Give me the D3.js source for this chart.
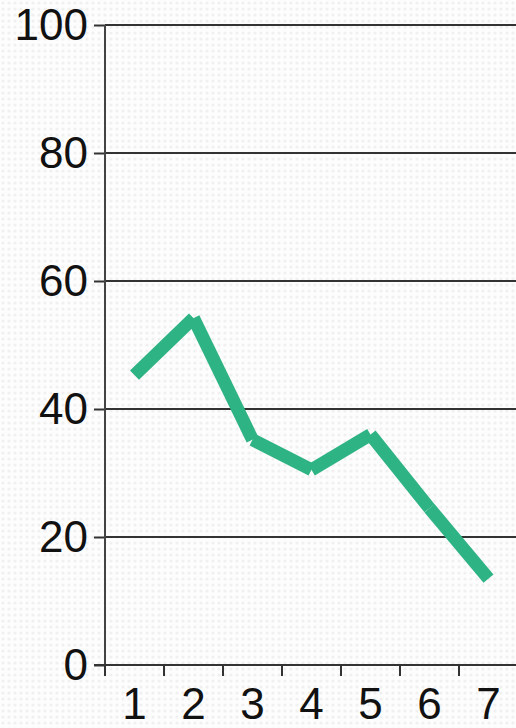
<!DOCTYPE html>
<html>
<head>
<meta charset="utf-8">
<script src="https://cdn.jsdelivr.net/npm/d3@7"></script>
<style>
  body { margin: 0; background: #fff; }
  svg { display: block; }
</style>
</head>
<body>
<svg id="chart" width="516" height="728"></svg>
<script>
const categories = ["1", "2", "3", "4", "5", "6", "7"];
const values = [45.3, 54.2, 35.2, 30.5, 36, 24.5, 13.5];
const yTicks = [0, 20, 40, 60, 80, 100];

const MARGIN = { TOP: 25, RIGHT: 0, BOTTOM: 63, LEFT: 105 };
const WIDTH = 516, HEIGHT = 728;
const innerW = 413; // 7 bands of ~59px, running off the right edge slightly
const innerH = HEIGHT - MARGIN.TOP - MARGIN.BOTTOM;

const svg = d3.select("#chart");

// faint dotted paper texture
const pat = svg.append("defs").append("pattern")
    .attr("id", "dots").attr("width", 6).attr("height", 6)
    .attr("patternUnits", "userSpaceOnUse");
pat.append("rect").attr("width", 6).attr("height", 6).attr("fill", "#fdfdfd");
pat.append("circle").attr("cx", 3).attr("cy", 3).attr("r", 1.6).attr("fill", "#f0f0f0");
svg.append("rect").attr("width", WIDTH).attr("height", HEIGHT).attr("fill", "url(#dots)");

const g = svg.append("g").attr("transform", `translate(${MARGIN.LEFT},${MARGIN.TOP})`);

const x = d3.scaleBand().domain(categories).range([0, innerW]);
const y = d3.scaleLinear().domain([0, 100]).range([innerH, 0]);

// gridlines
g.append("g")
    .selectAll("line")
    .data(yTicks.filter(d => d > 0))
    .join("line")
    .attr("x1", 0).attr("x2", innerW)
    .attr("y1", d => y(d)).attr("y2", d => y(d))
    .attr("stroke", "#333").attr("stroke-width", 2);

// y axis
const yAxis = g.append("g")
    .call(d3.axisLeft(y).tickValues(yTicks).tickSize(11).tickPadding(6));
yAxis.select(".domain").remove();
yAxis.append("line").attr("x1", 0).attr("x2", 0).attr("y1", 0).attr("y2", innerH)
    .attr("stroke", "#444").attr("stroke-width", 2);
yAxis.selectAll(".tick line").attr("stroke", "#333").attr("stroke-width", 2);
yAxis.selectAll("text")
    .attr("font-family", "'Liberation Sans', Arial, sans-serif")
    .attr("font-size", 44).attr("fill", "#111");

// x axis with ticks at band edges
const xAxis = g.append("g").attr("transform", `translate(0,${innerH})`);
xAxis.append("line").attr("x1", -11).attr("x2", innerW)
    .attr("stroke", "#333").attr("stroke-width", 2);
xAxis.selectAll(".edge")
    .data(categories)
    .join("line")
    .attr("class", "edge")
    .attr("x1", d => x(d)).attr("x2", d => x(d))
    .attr("y1", 0).attr("y2", 11)
    .attr("stroke", "#333").attr("stroke-width", 2);
xAxis.selectAll("text")
    .data(categories)
    .join("text")
    .attr("x", d => x(d) + x.bandwidth() / 2)
    .attr("y", 54)
    .attr("text-anchor", "middle")
    .attr("font-family", "'Liberation Sans', Arial, sans-serif")
    .attr("font-size", 44).attr("fill", "#111")
    .text(d => d);

// line drawn as separate butt-capped segments
const pts = categories.map((c, i) => [x(c) + x.bandwidth() / 2, y(values[i])]);
g.append("g")
    .selectAll("line")
    .data(d3.pairs(pts))
    .join("line")
    .attr("x1", d => d[0][0]).attr("y1", d => d[0][1])
    .attr("x2", d => d[1][0]).attr("y2", d => d[1][1])
    .attr("stroke", "#2eb384")
    .attr("stroke-width", 13)
    .attr("stroke-linecap", "butt");
</script>
</body>
</html>
